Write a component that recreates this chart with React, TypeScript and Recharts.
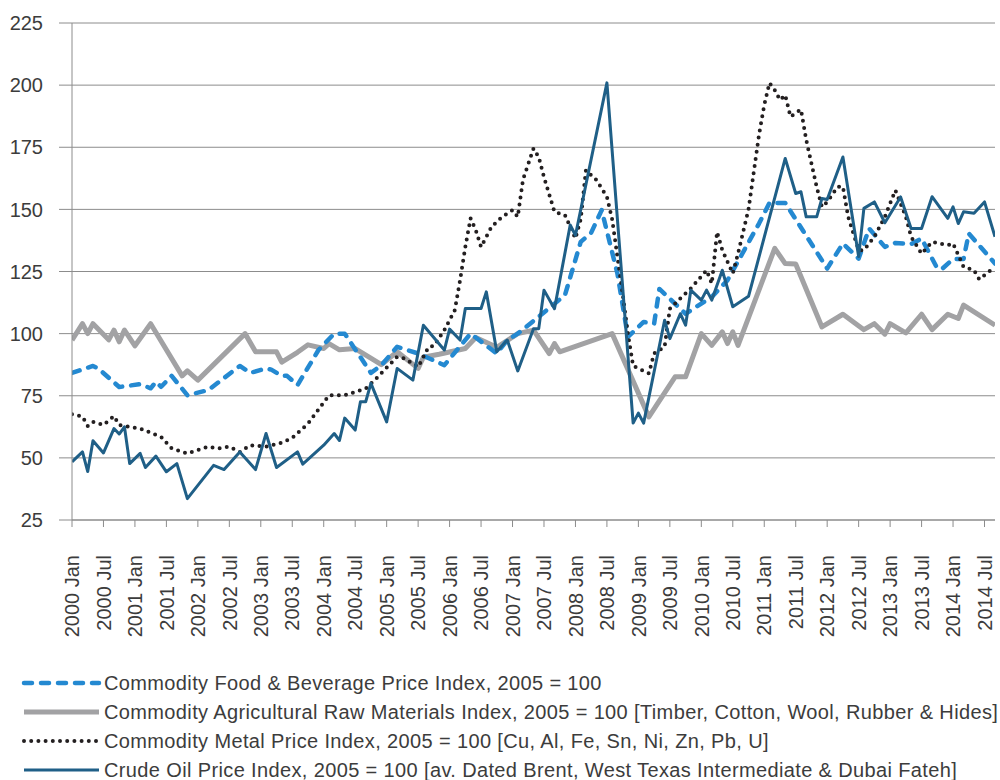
import React from 'react';
import { LineChart, Line, XAxis, YAxis, CartesianGrid } from 'recharts';

// Months since 2000 Jan for each tick, and the tick labels
const tickLabels = [
  '2000 Jan', '2000 Jul', '2001 Jan', '2001 Jul', '2002 Jan', '2002 Jul',
  '2003 Jan', '2003 Jul', '2004 Jan', '2004 Jul', '2005 Jan', '2005 Jul',
  '2006 Jan', '2006 Jul', '2007 Jan', '2007 Jul', '2008 Jan', '2008 Jul',
  '2009 Jan', '2009 Jul', '2010 Jan', '2010 Jul', '2011 Jan', '2011 Jul',
  '2012 Jan', '2012 Jul', '2013 Jan', '2013 Jul', '2014 Jan', '2014 Jul',
];
const tickMonths = tickLabels.map((_, i) => i * 6);
const yTicks = [25, 50, 75, 100, 125, 150, 175, 200, 225];

// [month index since 2000 Jan, index value]
const foodSeries: [number, number][] = [
  [0, 84.2], [4, 87], [5, 86], [9, 78.5], [13, 79.7], [15, 78], [16, 80.6], [17, 78.6],
  [19, 83], [22, 75.2], [26, 77.3], [32, 87], [34, 84.2], [37, 86], [38, 85.5], [40, 83],
  [41, 83], [43, 79.3], [47, 93.4], [50, 100], [52, 100], [57, 84.2], [59, 87.3], [62, 94.7],
  [66, 92], [71, 87.3], [76, 100], [81, 92], [83, 97.4], [85, 100], [89, 106.8], [94, 115.5],
  [97, 136.9], [99, 140.6], [101, 149.7], [104, 124.2], [106, 98.7], [109, 104.7], [111, 104],
  [112, 118], [117, 108], [122, 114.8], [125, 121.5], [131, 144.3], [133, 152.6], [136, 152.6],
  [144, 126.2], [147, 136.3], [150, 130.2], [152, 142.3], [155, 134.9], [157, 136.5],
  [160, 136], [162, 138.3], [165, 126.2], [166, 126.2], [168, 130], [170, 130], [171, 140.3],
  [176, 128.2],
];

const agriSeries: [number, number][] = [
  [0, 97.4], [2, 104], [3, 100], [4, 104], [7, 97.5], [8, 101.4], [9, 96.7], [10, 101.4],
  [12, 95.1], [15, 104], [21, 83], [22, 85], [24, 81.3], [33, 100], [35, 92.7], [39, 92.7],
  [40, 88.5], [43, 92.5], [45, 95.5], [48, 94], [49, 96], [51, 93.5], [54, 94], [59, 87.5],
  [62, 92.7], [66, 86], [67, 90.5], [70, 91.7], [75, 94], [77, 98.4], [81, 94.5], [85, 100],
  [88, 101.4], [91, 92], [92, 96], [93, 92.7], [103, 100], [110, 66.5], [115, 82.6],
  [117, 82.6], [120, 100], [122, 95.3], [124, 100.7], [125, 96], [126, 100.7], [127, 95.3],
  [134, 134.3], [136, 128.2], [138, 128], [143, 102.7], [147, 107.8], [151, 101.6], [153, 104],
  [155, 99.8], [156, 104], [159, 100.3], [162, 107.8], [164, 101.6], [167, 107.8], [169, 106.1],
  [170, 111.5], [176, 103.4],
];

const metalSeries: [number, number][] = [
  [0, 67.6], [2, 66.6], [3, 62.8], [4, 64.5], [6, 63.2], [8, 66.8], [9, 63.2], [13, 61.8],
  [17, 58.4], [19, 53.8], [22, 51.8], [26, 54.5], [28, 53.8], [30, 54.5], [32, 52.4], [34, 55.1],
  [37, 54.5], [40, 56.1], [42, 58], [45, 63.8], [49, 75.2], [52, 75.2], [56, 77.9], [58, 81.9],
  [62, 90.7], [63, 90.4], [66, 86.6], [68, 94.7], [69, 95], [71, 101.4], [73, 109.5], [74, 121.5],
  [75, 134.9], [76, 146.4], [77, 141.6], [78, 134.9], [80, 143], [82, 147], [84, 149.7], [85, 147],
  [86, 162], [88, 174.5], [89, 171], [90, 163], [92, 149], [94, 147.7], [96, 138.3], [97, 146],
  [98, 165.8], [100, 161.8], [102, 155.1], [103, 146], [104, 131], [105, 116], [106, 100],
  [107, 87], [108, 86], [110, 84], [111, 92], [113, 94.7], [114, 110], [116, 114.2], [118, 118.2],
  [121, 125.5], [122, 120.1], [123, 140.9], [124, 133.6], [126, 124.2], [127, 132.2], [129, 150],
  [130, 165], [131, 180], [132, 192], [133, 200.9], [134, 198], [135, 194], [136, 196],
  [137, 187.3], [139, 190.2], [140, 178], [142, 159], [143, 151], [144, 153], [146, 159.1],
  [147, 159.1], [148, 147], [150, 133.6], [151, 133.6], [153, 139], [155, 147], [157, 157.7],
  [159, 147], [160, 139], [162, 132.2], [164, 136.9], [167, 135.6], [168, 136.3], [170, 126.9],
  [172, 125.5], [173, 121.8], [176, 126.9],
];

const crudeSeries: [number, number][] = [
  [0, 48.4], [2, 52.4], [3, 44.5], [4, 56.9], [6, 52], [8, 61.8], [9, 59.6], [10, 62.5],
  [11, 47.7], [13, 51.8], [14, 46.1], [16, 50.7], [18, 44.4], [20, 47.7], [22, 33.6], [27, 47],
  [29, 45.3], [32, 52.4], [35, 45.3], [37, 59.8], [39, 46.1], [43, 52.4], [44, 47.5], [48, 55.1],
  [50, 59.8], [51, 57], [52, 66], [54, 61.2], [55, 72.6], [56, 72.6], [57, 80], [60, 64.5],
  [62, 86], [65, 81.3], [67, 103.4], [71, 93.4], [72, 101.8], [74, 97.4], [75, 110.1], [78, 110.1],
  [79, 116.8], [81, 92.7], [83, 97.4], [85, 85], [88, 102], [89, 102], [90, 117.5], [92, 110],
  [95, 143.7], [96, 139.6], [102, 200.9], [107, 64], [108, 68], [109, 64], [113, 105.4], [114, 98],
  [116, 108], [117, 103.4], [118, 117.5], [120, 113.5], [121, 117.5], [122, 113.5], [124, 125.5],
  [126, 110.8], [129, 115], [136, 170.5], [138, 156.4], [139, 157.1], [140, 147], [142, 147],
  [143, 154.4], [144, 154], [147, 171.1], [150, 131], [151, 150.4], [153, 153], [155, 144.6],
  [158, 155], [160, 142.3], [162, 142.3], [164, 155.1], [167, 146.4], [168, 151], [169, 144.3],
  [170, 149], [172, 148.4], [174, 153], [176, 139],
];

const seriesNames = [
  'Commodity Food & Beverage Price Index, 2005 = 100',
  'Commodity Agricultural Raw Materials Index, 2005 = 100 [Timber, Cotton, Wool, Rubber & Hides]',
  'Commodity Metal Price Index, 2005 = 100 [Cu, Al, Fe, Sn, Ni, Zn, Pb, U]',
  'Crude Oil Price Index, 2005 = 100 [av. Dated Brent, West Texas Intermediate & Dubai Fateh]',
];

const toRows = (pts: [number, number][]) => pts.map(([m, v]) => ({ m, v }));

const FONT = '"Liberation Sans", Arial, Helvetica, sans-serif';
const TEXT = '#3c3c3c';
const GRID = '#8c8c8c';

const styles = [
  { color: '#2489d1', width: 4.5, dash: '8 9', cap: 'round' as const },
  { color: '#a2a2a4', width: 5, dash: undefined, cap: 'butt' as const },
  { color: '#231f20', width: 4, dash: '0 7.2', cap: 'round' as const },
  { color: '#1f5f87', width: 3, dash: undefined, cap: 'butt' as const },
];

const seriesData = [foodSeries, agriSeries, metalSeries, crudeSeries].map(toRows);
const drawOrder = [1, 0, 2, 3];

const XTick = (props: any) => {
  const { x, y, payload } = props;
  const idx = tickMonths.indexOf(payload.value);
  const label = idx >= 0 ? tickLabels[idx] : '';
  return (
    <text
      x={x}
      y={y}
      transform={`rotate(-90, ${x}, ${y})`}
      textAnchor="end"
      dy="0.36em"
      fontFamily={FONT}
      fontSize={20}
      fill={TEXT}
    >
      {label}
    </text>
  );
};

const YTick = (props: any) => {
  const { x, y, payload } = props;
  return (
    <text x={x} y={y} textAnchor="end" dy="0.36em" fontFamily={FONT} fontSize={20} fill={TEXT}>
      {payload.value}
    </text>
  );
};

const legendRows = [683, 712, 741, 770];

export default function App() {
  return (
    <div style={{ position: 'absolute', left: 0, top: 0, width: 1000, height: 780, background: '#fff' }}>
      <LineChart width={1000} height={780} margin={{ top: 23, right: 5, bottom: 0, left: 0 }}>
        <CartesianGrid vertical={false} stroke={GRID} strokeWidth={1} />
        <XAxis
          dataKey="m"
          type="number"
          domain={[0, 176]}
          ticks={tickMonths}
          interval={0}
          allowDataOverflow
          height={260}
          tickSize={7}
          tickMargin={28}
          axisLine={{ stroke: GRID }}
          tickLine={{ stroke: GRID }}
          tick={<XTick />}
        />
        <YAxis
          type="number"
          domain={[25, 225]}
          ticks={yTicks}
          interval={0}
          width={72}
          tickSize={13}
          tickMargin={16}
          axisLine={{ stroke: GRID }}
          tickLine={{ stroke: GRID }}
          tick={<YTick />}
        />
        {drawOrder.map((i) => (
          <Line
            key={i}
            data={seriesData[i]}
            dataKey="v"
            name={seriesNames[i]}
            type="linear"
            stroke={styles[i].color}
            strokeWidth={styles[i].width}
            strokeDasharray={styles[i].dash}
            strokeLinecap={styles[i].cap}
            strokeLinejoin="round"
            dot={false}
            activeDot={false}
            isAnimationActive={false}
          />
        ))}
      </LineChart>
      <svg width={1000} height={120} style={{ position: 'absolute', left: 0, top: 660 }}>
        {seriesNames.map((name, i) => {
          const y = legendRows[i] - 660;
          const s = styles[i];
          return (
            <g key={i}>
              <line
                x1={24}
                x2={99}
                y1={y}
                y2={y}
                stroke={s.color}
                strokeWidth={s.width}
                strokeDasharray={s.dash}
                strokeLinecap={s.cap}
              />
              <text
                x={104}
                y={y}
                dy="0.36em"
                fontFamily={FONT}
                fontSize={20}
                letterSpacing={0.37}
                fill={TEXT}
              >
                {name}
              </text>
            </g>
          );
        })}
      </svg>
    </div>
  );
}
